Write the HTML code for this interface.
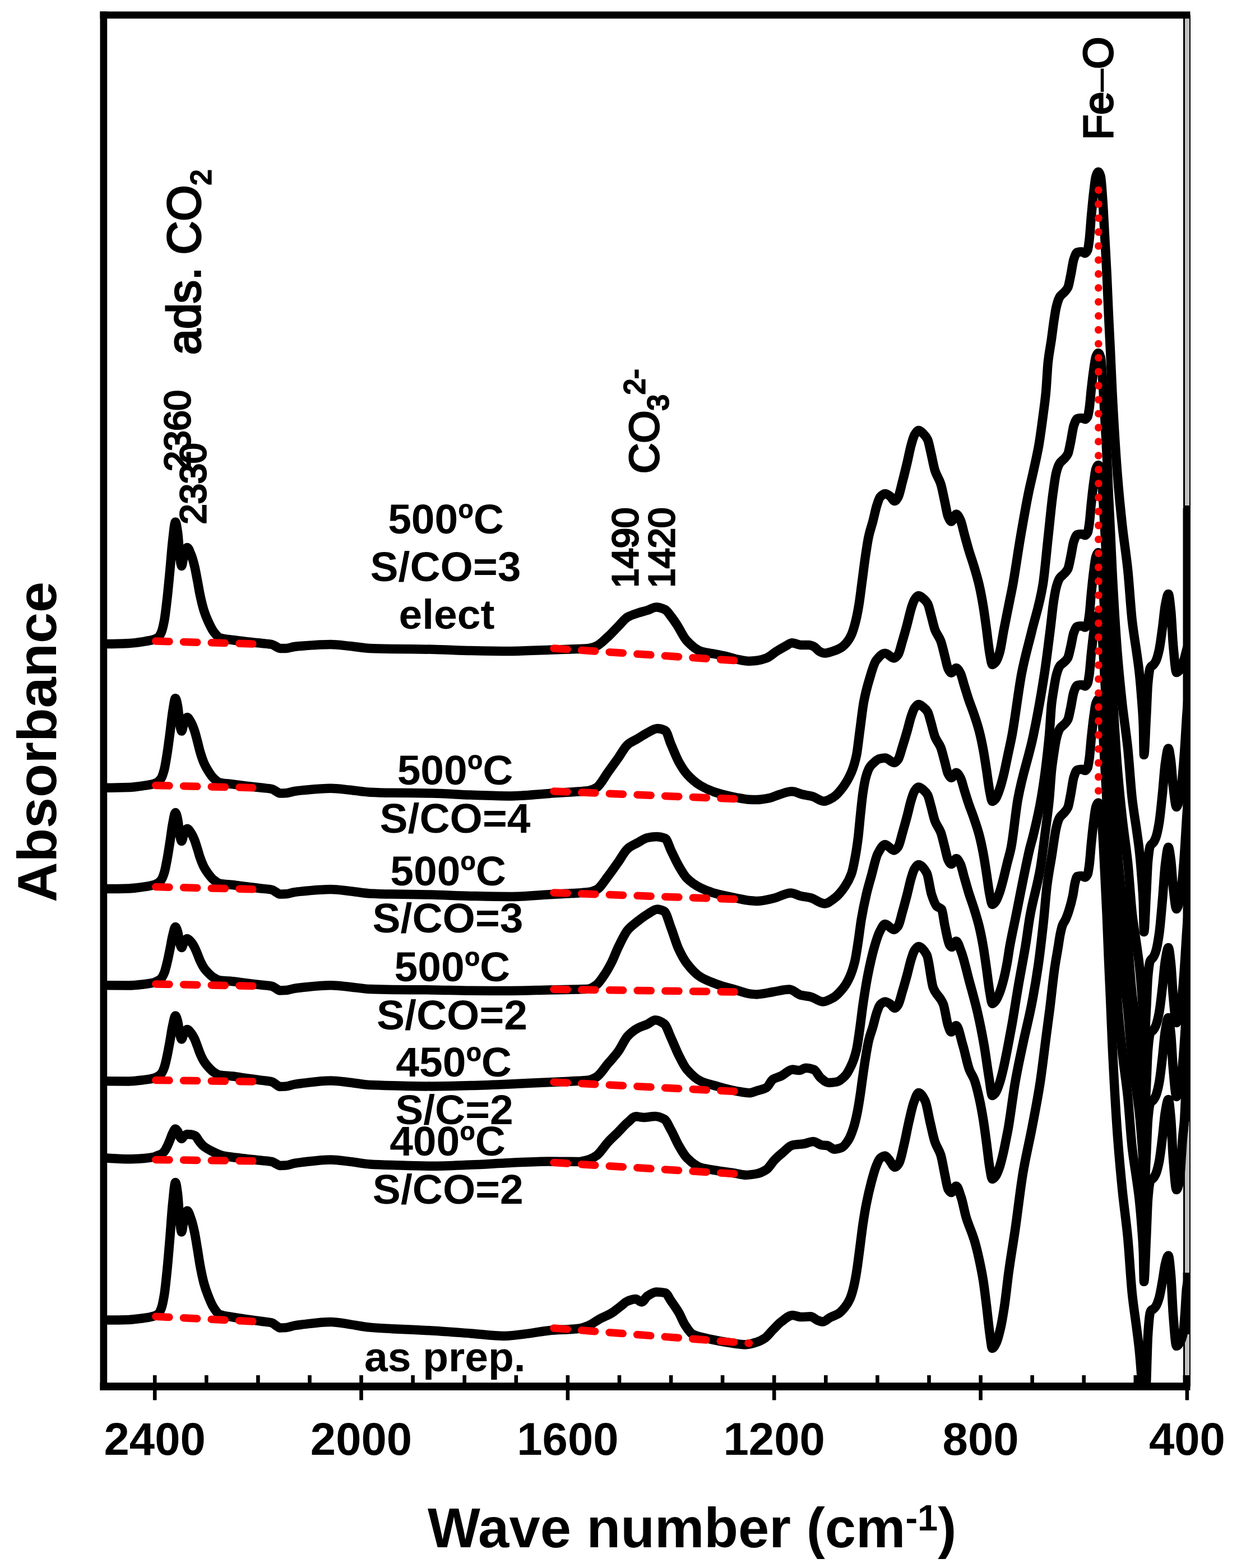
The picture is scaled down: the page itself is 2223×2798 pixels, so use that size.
<!DOCTYPE html>
<html lang="en"><head><meta charset="utf-8"><title>FTIR spectra</title>
<style>html,body{margin:0;padding:0;background:#fff}body{width:2223px;height:2798px;overflow:hidden}svg{display:block}text{font-family:"Liberation Sans",Arial,Helvetica,sans-serif;fill:#000}.b{font-weight:bold}.r{stroke:#000;stroke-width:3.2px;stroke-linejoin:miter}</style></head>
<body>
<svg xmlns="http://www.w3.org/2000/svg" width="2223" height="2798" viewBox="0 0 2223 2798">
<defs><clipPath id="pc"><rect x="185" y="26" width="1939" height="2448"/></clipPath><clipPath id="lc"><rect x="1000" y="600" width="300" height="445"/></clipPath></defs>
<rect width="2223" height="2798" fill="#fff"/>
<rect x="2111" y="27" width="13" height="2440" fill="#000"/><rect x="2114" y="28.5" width="8" height="2440" fill="#c0c0c0"/>
<text x="795.5" y="952" text-anchor="middle" class="b" font-size="75">500ºC</text><text x="795" y="1036.8" text-anchor="middle" class="b" font-size="75">S/CO=3</text><text x="797" y="1122" text-anchor="middle" class="b" font-size="75">elect</text><text x="812" y="1400.4" text-anchor="middle" class="b" font-size="75">500ºC</text><text x="812" y="1485.6" text-anchor="middle" class="b" font-size="75">S/CO=4</text><text x="799.6" y="1579.5" text-anchor="middle" class="b" font-size="75">500ºC</text><text x="799" y="1664.3" text-anchor="middle" class="b" font-size="75">S/CO=3</text><text x="806.9" y="1750.7" text-anchor="middle" class="b" font-size="75">500ºC</text><text x="806.5" y="1836.9" text-anchor="middle" class="b" font-size="75">S/CO=2</text><text x="809.7" y="1921" text-anchor="middle" class="b" font-size="75">450ºC</text><text x="810.4" y="2006.2" text-anchor="middle" class="b" font-size="75">S/C=2</text><text x="798.5" y="2062.4" text-anchor="middle" class="b" font-size="75">400ºC</text><text x="799.3" y="2148" text-anchor="middle" class="b" font-size="75">S/CO=2</text><text x="793.8" y="2446.8" text-anchor="middle" class="b" font-size="75">as prep.</text><text transform="translate(357.0 633.0) rotate(-90)" font-size="82.5" class="r">ads. CO<tspan font-size="50" dy="19">2</tspan></text><text transform="translate(339.3 841.0) rotate(-90)" font-size="65" class="r">2360</text><text transform="translate(367.2 935.5) rotate(-90)" font-size="65" class="r">2330</text><text transform="translate(1174.5 845.0) rotate(-90)" font-size="75" class="r">CO<tspan font-size="51" dy="17.5">3</tspan><tspan font-size="51" dy="-42">2-</tspan></text><g clip-path="url(#lc)"><text transform="translate(1138.0 1050.5) rotate(-90)" font-size="65" class="r">1490</text><text transform="translate(1202.8 1050.5) rotate(-90)" font-size="65" class="r">1420</text></g><text transform="translate(1984.6 249.6) rotate(-90) scale(0.98 1)" font-size="75" class="r">Fe<tspan style="stroke-width:0.6px">–</tspan>O</text>
<g clip-path="url(#pc)" fill="none" stroke="#000" stroke-width="16.5" stroke-linejoin="round" stroke-linecap="round">
<path d="M180.0 1149.0C183.7 1149.0 187.3 1149.0 191.0 1149.0C204.0 1149.0 217.0 1148.6 230.0 1148.0C239.2 1147.6 248.4 1146.1 257.6 1144.7C263.4 1143.8 269.2 1142.8 275.0 1141.0C277.3 1140.3 279.7 1139.4 282.0 1137.6C284.0 1136.1 286.0 1132.6 288.0 1128.0C289.7 1124.1 291.3 1116.7 293.0 1108.0C294.7 1099.3 296.3 1084.4 298.0 1070.0C299.7 1055.6 301.3 1037.5 303.0 1020.0C304.7 1002.5 306.3 978.9 308.0 965.0C309.7 951.1 311.3 931.5 313.0 931.5C314.3 931.5 315.7 941.3 317.0 950.0C318.3 958.7 319.7 985.9 321.0 995.0C322.0 1001.8 323.0 1010.0 324.0 1010.0C325.3 1010.0 326.7 996.4 328.0 992.0C330.0 985.4 332.0 977.0 334.0 977.0C336.3 977.0 338.7 984.4 341.0 990.0C343.0 994.8 345.0 1002.0 347.0 1010.0C348.7 1016.7 350.3 1026.3 352.0 1035.0C353.7 1043.7 355.3 1054.3 357.0 1062.0C359.3 1072.8 361.7 1082.7 364.0 1090.0C366.3 1097.3 368.7 1102.9 371.0 1108.0C374.3 1115.3 377.7 1122.6 381.0 1127.0C384.7 1131.8 388.3 1136.8 392.0 1138.0C399.7 1140.5 407.3 1140.9 415.0 1142.0C423.3 1143.2 431.7 1144.1 440.0 1145.0C449.2 1146.1 458.5 1147.0 467.7 1148.0C473.5 1148.6 479.2 1148.8 485.0 1150.0C487.7 1150.5 490.3 1152.7 493.0 1154.0C495.0 1155.0 497.0 1157.0 499.0 1157.0C502.7 1157.0 506.3 1157.0 510.0 1157.0C515.0 1157.0 520.0 1154.7 525.0 1154.0C529.3 1153.4 533.5 1153.0 537.8 1152.7C555.2 1151.4 572.6 1150.0 590.0 1150.0C601.7 1150.0 613.3 1151.9 625.0 1153.0C636.7 1154.1 648.3 1156.5 660.0 1157.0C673.3 1157.6 686.7 1157.8 700.0 1158.0C723.3 1158.3 746.7 1158.3 770.0 1158.7C793.3 1159.1 816.7 1160.5 840.0 1161.0C863.3 1161.5 886.7 1162.0 910.0 1162.0C933.3 1162.0 956.7 1160.5 980.0 1159.7C997.3 1159.1 1014.7 1158.7 1032.0 1158.0C1038.0 1157.7 1044.0 1157.6 1050.0 1157.0C1054.7 1156.6 1059.3 1154.9 1064.0 1153.0C1071.0 1150.1 1078.0 1142.3 1085.0 1136.0C1090.9 1130.7 1096.8 1123.9 1102.7 1118.0C1108.5 1112.2 1114.2 1104.2 1120.0 1101.0C1125.9 1097.7 1131.9 1096.0 1137.8 1094.0C1143.5 1092.1 1149.3 1090.8 1155.0 1089.0C1160.3 1087.3 1165.7 1083.5 1171.0 1083.5C1176.3 1083.5 1181.5 1085.5 1186.8 1088.0C1190.3 1089.7 1193.8 1095.6 1197.3 1100.0C1200.8 1104.4 1204.3 1109.7 1207.8 1115.0C1213.5 1123.7 1219.3 1136.9 1225.0 1143.0C1233.3 1151.8 1241.7 1159.4 1250.0 1162.0C1259.3 1164.9 1268.7 1165.6 1278.0 1167.5C1283.7 1168.6 1289.3 1169.7 1295.0 1171.0C1301.0 1172.4 1307.0 1174.7 1313.0 1176.0C1320.3 1177.5 1327.7 1179.7 1335.0 1179.7C1340.0 1179.7 1345.0 1179.2 1350.0 1178.7C1355.8 1178.1 1361.7 1176.4 1367.5 1174.3C1373.3 1172.2 1379.2 1166.2 1385.0 1162.6C1390.8 1159.0 1396.7 1155.5 1402.5 1152.4C1405.9 1150.6 1409.4 1147.2 1412.8 1147.2C1418.1 1147.2 1423.5 1151.0 1428.8 1151.0C1433.7 1151.0 1438.5 1151.0 1443.4 1151.0C1446.3 1151.0 1449.3 1152.5 1452.2 1153.9C1455.6 1155.5 1459.0 1160.9 1462.4 1162.6C1465.3 1164.0 1468.1 1165.6 1471.0 1165.6C1475.4 1165.6 1479.9 1163.9 1484.3 1162.6C1489.2 1161.2 1494.0 1159.5 1498.9 1156.8C1502.8 1154.7 1506.6 1151.1 1510.5 1146.6C1513.4 1143.2 1516.4 1138.5 1519.3 1132.0C1521.7 1126.6 1524.2 1118.2 1526.6 1108.6C1528.5 1101.0 1530.5 1091.0 1532.4 1079.4C1534.4 1067.6 1536.3 1050.4 1538.3 1035.7C1540.2 1021.2 1542.2 1004.9 1544.1 991.9C1546.0 978.9 1548.0 965.7 1549.9 956.9C1552.3 945.8 1554.8 939.8 1557.2 930.6C1559.6 921.4 1562.1 908.8 1564.5 901.4C1566.5 895.4 1568.4 888.9 1570.4 886.8C1573.3 883.6 1576.2 881.0 1579.1 881.0C1582.0 881.0 1585.0 883.3 1587.9 885.3C1590.6 887.1 1593.4 894.1 1596.1 894.1C1598.2 894.1 1600.4 890.5 1602.5 886.8C1604.9 882.6 1607.4 869.7 1609.8 860.5C1612.7 849.5 1615.6 837.7 1618.5 825.5C1620.9 815.3 1623.4 802.0 1625.8 793.4C1627.8 786.5 1629.7 779.1 1631.7 775.9C1634.1 772.0 1636.6 768.0 1639.0 768.0C1641.9 768.0 1644.8 771.6 1647.7 774.4C1650.1 776.8 1652.6 779.5 1655.0 784.6C1657.0 788.7 1658.9 799.8 1660.9 808.0C1663.3 818.1 1665.8 832.6 1668.2 840.1C1671.6 850.5 1675.0 853.1 1678.4 863.5C1680.8 871.0 1683.3 884.8 1685.7 895.6C1687.6 904.2 1689.6 917.4 1691.5 921.8C1693.4 926.2 1695.4 930.6 1697.3 930.6C1700.2 930.6 1703.2 917.5 1706.1 917.5C1708.5 917.5 1711.0 922.8 1713.4 927.7C1715.8 932.6 1718.3 945.2 1720.7 953.9C1723.1 962.6 1725.6 972.0 1728.0 980.2C1731.4 991.7 1734.8 1000.8 1738.2 1012.3C1741.1 1022.2 1744.1 1031.7 1747.0 1044.4C1749.4 1054.9 1751.9 1067.8 1754.3 1082.4C1756.2 1094.0 1758.2 1109.1 1760.1 1123.2C1762.0 1137.3 1764.0 1156.5 1765.9 1167.0C1767.4 1175.0 1768.8 1186.0 1770.3 1186.0C1772.3 1186.0 1774.2 1183.8 1776.2 1181.6C1778.6 1178.9 1781.1 1172.2 1783.5 1164.1C1785.9 1156.0 1788.4 1137.4 1790.8 1124.7C1794.2 1107.2 1797.5 1090.9 1800.9 1074.0C1802.9 1063.8 1805.0 1054.6 1807.0 1043.5C1811.3 1019.7 1815.7 987.7 1820.0 962.3C1824.9 933.6 1829.8 905.3 1834.7 881.2C1838.1 864.3 1841.6 851.0 1845.0 835.0C1847.8 822.1 1850.5 810.8 1853.3 795.0C1856.0 779.5 1858.7 758.7 1861.4 738.0C1862.9 726.3 1864.5 716.1 1866.0 700.0C1867.3 686.7 1868.5 658.5 1869.8 646.6C1871.9 627.2 1873.9 619.5 1876.0 604.8C1877.4 594.9 1878.8 582.8 1880.2 573.5C1881.6 564.2 1883.0 554.4 1884.4 548.5C1886.1 541.2 1887.9 535.3 1889.6 531.8C1890.4 530.2 1891.2 529.0 1892.0 528.0C1894.3 525.1 1896.7 523.9 1899.0 521.3C1901.1 519.0 1903.1 517.3 1905.2 513.0C1907.0 509.3 1908.7 498.4 1910.5 490.0C1912.2 481.8 1914.0 468.0 1915.7 462.9C1917.8 456.8 1919.8 450.9 1921.9 450.4C1924.6 449.7 1927.3 449.3 1930.0 449.3C1932.0 449.3 1934.0 452.0 1936.0 452.0C1937.5 452.0 1939.0 449.4 1940.5 446.0C1941.5 443.7 1942.5 435.5 1943.5 427.4C1944.7 418.0 1945.8 398.4 1947.0 385.7C1948.4 370.5 1949.8 355.5 1951.2 343.9C1952.6 332.6 1953.9 318.8 1955.3 314.7C1956.7 310.5 1958.1 306.8 1959.5 306.8C1960.9 306.8 1962.2 310.1 1963.6 314.7C1964.8 318.7 1966.0 338.2 1967.2 354.4C1968.4 370.6 1969.6 395.4 1970.8 417.0C1972.1 440.4 1973.4 463.2 1974.7 490.0C1975.8 512.0 1976.8 540.2 1977.9 563.1C1978.9 585.2 1980.0 604.0 1981.0 625.7C1982.1 649.5 1983.3 678.5 1984.4 700.0C1987.4 757.5 1990.5 807.6 1993.5 846.0C1996.5 883.9 1999.5 912.8 2002.5 940.0C2005.7 968.7 2008.8 985.9 2012.0 1016.0C2014.7 1041.4 2017.3 1085.5 2020.0 1108.8C2022.7 1132.1 2025.3 1145.4 2028.0 1165.0C2029.6 1176.7 2031.2 1186.8 2032.8 1201.6C2034.2 1214.5 2035.6 1231.1 2037.0 1250.0C2037.9 1262.6 2038.9 1271.2 2039.8 1294.4C2040.2 1304.3 2040.6 1347.0 2041.0 1347.0C2042.3 1347.0 2043.7 1304.4 2045.0 1280.0C2046.0 1261.7 2047.0 1230.6 2048.0 1220.0C2049.3 1205.8 2050.7 1195.1 2052.0 1192.0C2052.7 1190.5 2053.3 1189.6 2054.0 1189.0C2055.0 1188.1 2056.0 1187.9 2057.0 1187.0C2058.7 1185.5 2060.3 1183.2 2062.0 1180.0C2064.0 1176.1 2066.0 1168.9 2068.0 1160.0C2070.0 1151.1 2072.0 1134.6 2074.0 1120.0C2075.7 1107.8 2077.3 1088.4 2079.0 1080.0C2080.8 1070.8 2082.7 1060.0 2084.5 1060.0C2086.0 1060.0 2087.5 1076.0 2089.0 1090.0C2090.3 1102.4 2091.7 1135.4 2093.0 1150.0C2095.0 1171.8 2097.0 1200.0 2099.0 1200.0C2100.8 1200.0 2102.7 1197.9 2104.5 1196.0C2105.7 1194.8 2106.8 1192.4 2108.0 1190.0C2109.0 1187.9 2110.0 1185.0 2111.0 1182.0C2112.0 1179.0 2113.0 1175.6 2114.0 1172.0C2115.0 1168.4 2116.0 1163.6 2117.0 1160.0C2118.0 1156.4 2119.0 1153.3 2120.0 1150.0"/>
<path d="M180.0 1405.6C183.7 1405.6 187.3 1405.7 191.0 1405.7C204.0 1405.7 217.0 1405.4 230.0 1405.0C239.2 1404.7 248.4 1403.3 257.6 1401.9C263.4 1401.1 269.2 1400.1 275.0 1398.3C277.3 1397.6 279.7 1396.6 282.0 1395.0C284.0 1393.6 286.0 1391.4 288.0 1388.1C289.7 1385.3 291.3 1379.9 293.0 1373.6C294.7 1367.3 296.3 1356.5 298.0 1346.1C299.7 1335.7 301.3 1322.6 303.0 1310.0C304.7 1297.4 306.3 1280.3 308.0 1270.2C309.7 1260.2 311.3 1246.0 313.0 1246.0C314.3 1246.0 315.7 1253.3 317.0 1259.8C318.3 1266.3 319.7 1286.6 321.0 1293.4C322.0 1298.5 323.0 1304.6 324.0 1304.6C325.3 1304.6 326.7 1294.4 328.0 1291.2C330.0 1286.3 332.0 1280.0 334.0 1280.0C336.3 1280.0 338.7 1285.4 341.0 1289.4C343.0 1292.9 345.0 1298.1 347.0 1303.9C348.7 1308.7 350.3 1315.7 352.0 1322.0C353.7 1328.2 355.3 1335.9 357.0 1341.5C359.3 1349.3 361.7 1356.5 364.0 1361.8C366.3 1367.1 368.7 1371.1 371.0 1374.8C374.3 1380.1 377.7 1385.4 381.0 1388.5C384.7 1392.0 388.3 1395.6 392.0 1396.5C399.7 1398.3 407.3 1398.4 415.0 1399.4C423.3 1400.5 431.7 1401.6 440.0 1402.6C449.2 1403.7 458.5 1404.7 467.7 1405.8C473.5 1406.5 479.2 1406.7 485.0 1408.0C487.7 1408.6 490.3 1410.8 493.0 1412.3C495.0 1413.4 497.0 1415.5 499.0 1415.5C502.7 1415.5 506.3 1415.4 510.0 1415.3C515.0 1415.1 520.0 1412.8 525.0 1412.0C529.3 1411.3 533.5 1410.8 537.8 1410.4C555.2 1408.8 572.6 1406.7 590.0 1406.7C601.7 1406.7 613.3 1408.6 625.0 1409.7C636.7 1410.9 648.3 1413.2 660.0 1413.7C673.3 1414.3 686.7 1414.6 700.0 1414.8C723.3 1415.1 746.7 1415.1 770.0 1415.5C793.3 1415.9 816.7 1417.8 840.0 1418.6C863.3 1419.4 886.7 1420.4 910.0 1420.4C933.3 1420.4 956.7 1417.4 980.0 1415.9C997.3 1414.8 1014.7 1413.9 1032.0 1412.6C1038.0 1412.1 1044.0 1411.9 1050.0 1411.0C1054.7 1410.3 1059.3 1408.4 1064.0 1405.7C1071.0 1401.7 1078.0 1387.3 1085.0 1377.7C1090.9 1369.6 1096.8 1361.3 1102.7 1353.0C1108.5 1344.9 1114.2 1333.4 1120.0 1328.6C1125.9 1323.6 1131.9 1321.6 1137.8 1318.0C1143.5 1314.6 1149.3 1310.5 1155.0 1307.6C1160.9 1304.6 1166.9 1300.0 1172.8 1300.0C1177.5 1300.0 1182.1 1301.3 1186.8 1303.6C1190.3 1305.3 1193.8 1320.5 1197.3 1328.6C1202.0 1339.4 1206.6 1351.6 1211.3 1360.0C1216.0 1368.4 1220.6 1375.8 1225.3 1381.0C1233.5 1390.2 1241.8 1397.2 1250.0 1402.0C1259.3 1407.5 1268.7 1411.4 1278.0 1414.4C1289.7 1418.1 1301.3 1420.8 1313.0 1423.0C1321.1 1424.5 1329.3 1426.4 1337.4 1426.7C1341.6 1426.9 1345.8 1427.0 1350.0 1427.0C1357.7 1427.0 1365.3 1425.5 1373.0 1424.0C1378.7 1422.9 1384.3 1419.7 1390.0 1418.0C1397.6 1415.8 1405.2 1412.3 1412.8 1412.3C1419.1 1412.3 1425.4 1416.1 1431.7 1417.6C1437.5 1418.9 1443.2 1419.5 1449.0 1421.0C1455.9 1422.8 1462.8 1429.8 1469.7 1429.8C1475.5 1429.8 1481.2 1426.0 1487.0 1422.5C1492.9 1418.9 1498.8 1411.6 1504.7 1403.6C1509.6 1397.0 1514.4 1389.0 1519.3 1377.3C1522.2 1370.3 1525.1 1361.7 1528.0 1348.0C1530.0 1338.6 1532.0 1318.9 1534.0 1304.3C1536.4 1286.8 1538.8 1264.4 1541.2 1251.8C1544.6 1233.9 1548.0 1222.2 1551.4 1211.0C1555.3 1198.3 1559.1 1183.8 1563.0 1178.8C1568.4 1171.8 1573.7 1165.7 1579.1 1165.7C1584.5 1165.7 1589.8 1174.4 1595.2 1174.4C1597.6 1174.4 1600.1 1171.3 1602.5 1168.0C1604.9 1164.6 1607.4 1152.9 1609.8 1144.7C1612.7 1135.0 1615.6 1124.6 1618.5 1113.8C1620.9 1104.8 1623.4 1093.0 1625.8 1085.4C1627.8 1079.3 1629.7 1072.8 1631.7 1070.0C1634.1 1066.5 1636.6 1063.0 1639.0 1063.0C1641.9 1063.0 1644.8 1066.0 1647.7 1068.4C1650.1 1070.4 1652.6 1072.7 1655.0 1077.1C1657.0 1080.6 1658.9 1089.9 1660.9 1096.9C1663.3 1105.5 1665.8 1117.7 1668.2 1124.1C1671.6 1132.9 1675.0 1135.0 1678.4 1143.9C1680.8 1150.2 1683.3 1161.9 1685.7 1171.1C1687.6 1178.4 1689.6 1189.5 1691.5 1193.2C1693.4 1197.0 1695.4 1200.7 1697.3 1200.7C1700.2 1200.7 1703.2 1192.0 1706.1 1192.0C1708.5 1192.0 1711.0 1196.7 1713.4 1201.0C1715.8 1205.4 1718.3 1216.5 1720.7 1224.3C1723.1 1232.0 1725.6 1240.3 1728.0 1247.6C1731.4 1257.7 1734.8 1265.8 1738.2 1276.0C1741.1 1284.8 1744.1 1293.3 1747.0 1304.5C1749.4 1313.8 1751.9 1325.2 1754.3 1338.2C1756.2 1348.5 1758.2 1361.9 1760.1 1374.3C1762.0 1386.8 1764.0 1403.9 1765.9 1413.2C1767.4 1420.2 1768.8 1430.0 1770.3 1430.0C1772.3 1430.0 1774.2 1427.7 1776.2 1425.5C1778.6 1422.7 1781.1 1415.0 1783.5 1408.0C1785.8 1401.3 1788.2 1392.4 1790.5 1383.0C1793.0 1372.9 1795.5 1359.8 1798.0 1348.0C1800.5 1336.2 1803.0 1325.7 1805.5 1312.3C1811.4 1280.6 1817.4 1228.5 1823.3 1198.7C1829.3 1168.8 1835.2 1149.5 1841.2 1124.7C1847.7 1097.8 1854.1 1082.2 1860.6 1043.5C1863.6 1025.5 1866.6 989.5 1869.6 962.3C1872.6 935.4 1875.5 903.1 1878.5 881.2C1880.5 866.7 1882.4 851.7 1884.4 843.8C1886.1 836.9 1887.9 831.7 1889.6 828.5C1890.4 827.0 1891.2 826.0 1892.0 825.0C1894.3 822.2 1896.7 820.9 1899.0 818.3C1901.1 816.0 1903.1 814.2 1905.2 809.9C1907.0 806.3 1908.7 795.3 1910.5 786.9C1912.2 778.6 1914.0 764.8 1915.7 759.7C1917.8 753.5 1919.8 747.7 1921.9 747.1C1924.6 746.4 1927.3 746.0 1930.0 746.0C1932.0 746.0 1934.0 748.2 1936.0 748.2C1937.5 748.2 1939.0 746.1 1940.5 743.3C1941.5 741.4 1942.5 734.8 1943.5 728.2C1944.7 720.5 1945.8 704.6 1947.0 694.2C1948.4 681.8 1949.8 669.7 1951.2 660.2C1952.6 651.0 1953.9 639.7 1955.3 636.4C1956.7 633.0 1958.1 630.0 1959.5 630.0C1960.9 630.0 1962.2 633.3 1963.6 637.8C1964.8 641.8 1966.0 661.2 1967.2 677.3C1968.4 693.4 1969.6 718.0 1970.8 739.4C1972.1 762.7 1973.4 785.3 1974.7 811.9C1975.8 833.8 1976.8 861.8 1977.9 884.5C1978.9 906.5 1980.0 925.2 1981.0 946.7C1982.1 970.3 1983.3 999.2 1984.4 1020.5C1987.4 1077.5 1990.5 1127.4 1993.5 1165.5C1996.5 1203.1 1999.5 1231.8 2002.5 1258.8C2005.7 1287.3 2008.8 1304.4 2012.0 1334.3C2014.7 1359.5 2017.3 1403.3 2020.0 1426.4C2022.7 1449.6 2025.3 1462.8 2028.0 1482.3C2029.6 1493.9 2031.2 1504.0 2032.8 1518.6C2034.2 1531.4 2035.6 1547.9 2037.0 1566.7C2037.9 1579.2 2038.9 1587.7 2039.8 1610.8C2040.2 1620.6 2040.6 1663.0 2041.0 1663.0C2042.3 1663.0 2043.7 1621.0 2045.0 1596.8C2046.0 1578.8 2047.0 1548.1 2048.0 1537.6C2049.3 1523.6 2050.7 1513.0 2052.0 1510.0C2052.7 1508.4 2053.3 1507.8 2054.0 1507.0C2055.0 1505.9 2056.0 1505.5 2057.0 1504.3C2058.7 1502.4 2060.3 1499.4 2062.0 1495.0C2064.0 1489.9 2066.0 1480.3 2068.0 1468.4C2070.0 1456.6 2072.0 1434.7 2074.0 1415.3C2075.7 1399.1 2077.3 1373.2 2079.0 1362.1C2080.8 1349.8 2082.7 1335.5 2084.5 1335.5C2086.0 1335.5 2087.5 1347.5 2089.0 1357.9C2090.3 1367.1 2091.7 1391.8 2093.0 1402.7C2095.0 1419.0 2097.0 1440.0 2099.0 1440.0C2100.8 1440.0 2102.7 1432.0 2104.5 1424.4C2105.7 1419.7 2106.8 1410.6 2108.0 1401.1C2109.0 1392.9 2110.0 1381.7 2111.0 1370.0C2112.0 1358.3 2113.0 1344.1 2114.0 1329.4C2115.0 1314.6 2116.0 1295.4 2117.0 1280.6C2118.0 1265.9 2119.0 1253.5 2120.0 1240.0"/>
<path d="M180.0 1585.9C183.7 1585.9 187.3 1586.0 191.0 1586.0C204.0 1586.0 217.0 1585.8 230.0 1585.4C239.2 1585.2 248.4 1583.8 257.6 1582.4C263.4 1581.6 269.2 1580.7 275.0 1578.9C277.3 1578.2 279.7 1577.1 282.0 1575.6C284.0 1574.3 286.0 1572.6 288.0 1569.7C289.7 1567.4 291.3 1562.9 293.0 1557.6C294.7 1552.2 296.3 1543.2 298.0 1534.4C299.7 1525.6 301.3 1514.6 303.0 1503.9C304.7 1493.3 306.3 1478.9 308.0 1470.4C309.7 1462.0 311.3 1450.0 313.0 1450.0C314.3 1450.0 315.7 1456.3 317.0 1462.0C318.3 1467.7 319.7 1485.4 321.0 1491.3C322.0 1495.7 323.0 1501.0 324.0 1501.0C325.3 1501.0 326.7 1491.8 328.0 1488.8C330.0 1484.4 332.0 1478.7 334.0 1478.7C336.3 1478.7 338.7 1483.2 341.0 1486.6C343.0 1489.5 345.0 1493.9 347.0 1498.8C348.7 1502.8 350.3 1508.7 352.0 1514.0C353.7 1519.2 355.3 1525.7 357.0 1530.4C359.3 1536.9 361.7 1543.0 364.0 1547.4C366.3 1551.8 368.7 1555.2 371.0 1558.3C374.3 1562.8 377.7 1567.2 381.0 1569.9C384.7 1572.8 388.3 1575.8 392.0 1576.6C399.7 1578.1 407.3 1578.1 415.0 1579.0C423.3 1580.0 431.7 1581.3 440.0 1582.3C449.2 1583.5 458.5 1584.5 467.7 1585.6C473.5 1586.3 479.2 1586.5 485.0 1587.8C487.7 1588.4 490.3 1590.7 493.0 1592.2C495.0 1593.3 497.0 1595.5 499.0 1595.5C502.7 1595.5 506.3 1595.4 510.0 1595.3C515.0 1595.2 520.0 1592.8 525.0 1592.1C529.3 1591.4 533.5 1591.0 537.8 1590.6C555.2 1589.0 572.6 1587.0 590.0 1587.0C601.7 1587.0 613.3 1589.0 625.0 1590.2C636.7 1591.4 648.3 1593.8 660.0 1594.4C673.3 1595.0 686.7 1595.3 700.0 1595.5C723.3 1596.0 746.7 1596.1 770.0 1596.6C793.3 1597.1 816.7 1598.5 840.0 1598.9C863.3 1599.4 886.7 1600.0 910.0 1600.0C933.3 1600.0 956.7 1597.5 980.0 1596.2C997.3 1595.3 1014.7 1594.5 1032.0 1593.4C1038.0 1593.0 1044.0 1592.8 1050.0 1592.0C1054.7 1591.4 1059.3 1589.9 1064.0 1587.8C1071.0 1584.6 1078.0 1572.2 1085.0 1563.3C1090.9 1555.8 1096.8 1547.1 1102.7 1538.8C1108.5 1530.7 1114.2 1519.1 1120.0 1514.3C1125.9 1509.3 1131.9 1507.1 1137.8 1503.8C1143.5 1500.7 1149.3 1496.1 1155.0 1495.0C1160.3 1493.9 1165.7 1493.0 1171.0 1493.0C1176.3 1493.0 1181.5 1494.1 1186.8 1496.0C1190.3 1497.3 1193.8 1510.7 1197.3 1517.8C1202.0 1527.3 1206.6 1537.8 1211.3 1545.8C1216.0 1553.8 1220.6 1562.2 1225.3 1566.8C1233.5 1575.0 1241.8 1580.2 1250.0 1584.3C1259.3 1588.9 1268.7 1592.2 1278.0 1594.8C1289.7 1598.1 1301.3 1600.2 1313.0 1602.5C1321.1 1604.1 1329.3 1606.1 1337.4 1607.0C1341.6 1607.4 1345.8 1608.0 1350.0 1608.0C1360.0 1608.0 1370.0 1605.2 1380.0 1603.0C1390.3 1600.8 1400.7 1593.4 1411.0 1593.4C1416.9 1593.4 1422.9 1597.7 1428.8 1599.0C1434.5 1600.3 1440.3 1600.6 1446.0 1602.0C1454.3 1604.0 1462.7 1612.4 1471.0 1612.4C1477.3 1612.4 1483.7 1606.7 1490.0 1602.0C1495.9 1597.6 1501.7 1590.4 1507.6 1581.7C1511.5 1575.9 1515.4 1569.6 1519.3 1558.4C1521.5 1552.0 1523.8 1540.1 1526.0 1528.0C1527.7 1519.0 1529.3 1508.4 1531.0 1495.0C1532.3 1484.3 1533.7 1467.6 1535.0 1455.0C1536.5 1440.9 1538.0 1425.0 1539.5 1415.0C1541.3 1402.8 1543.2 1392.3 1545.0 1386.0C1547.3 1378.0 1549.7 1372.0 1552.0 1368.5C1554.7 1364.4 1557.5 1362.0 1560.2 1359.8C1563.1 1357.4 1566.0 1354.7 1568.9 1354.0C1572.3 1353.2 1575.7 1352.5 1579.1 1352.5C1584.6 1352.5 1590.0 1361.0 1595.5 1361.0C1597.8 1361.0 1600.2 1358.1 1602.5 1355.0C1604.9 1351.7 1607.4 1340.9 1609.8 1333.3C1612.7 1324.2 1615.6 1314.5 1618.5 1304.4C1620.9 1296.0 1623.4 1285.0 1625.8 1277.9C1627.8 1272.2 1629.7 1266.1 1631.7 1263.5C1634.1 1260.3 1636.6 1257.0 1639.0 1257.0C1641.9 1257.0 1644.8 1259.9 1647.7 1262.2C1650.1 1264.1 1652.6 1266.3 1655.0 1270.4C1657.0 1273.7 1658.9 1282.6 1660.9 1289.2C1663.3 1297.4 1665.8 1309.1 1668.2 1315.1C1671.6 1323.5 1675.0 1325.5 1678.4 1333.9C1680.8 1340.0 1683.3 1351.1 1685.7 1359.8C1687.6 1366.7 1689.6 1377.4 1691.5 1380.9C1693.4 1384.4 1695.4 1388.0 1697.3 1388.0C1700.2 1388.0 1703.2 1378.7 1706.1 1378.7C1708.5 1378.7 1711.0 1383.3 1713.4 1387.6C1715.8 1391.9 1718.3 1402.9 1720.7 1410.6C1723.1 1418.3 1725.6 1426.5 1728.0 1433.6C1731.4 1443.7 1734.8 1451.7 1738.2 1461.8C1741.1 1470.5 1744.1 1478.8 1747.0 1489.9C1749.4 1499.1 1751.9 1510.4 1754.3 1523.2C1756.2 1533.4 1758.2 1546.6 1760.1 1559.0C1762.0 1571.3 1764.0 1588.2 1765.9 1597.3C1767.4 1604.3 1768.8 1614.0 1770.3 1614.0C1772.3 1614.0 1774.2 1611.4 1776.2 1609.0C1778.6 1606.0 1781.1 1598.9 1783.5 1592.0C1785.8 1585.4 1788.2 1576.0 1790.5 1567.0C1792.7 1558.7 1794.8 1548.8 1797.0 1540.0C1799.3 1530.5 1801.7 1523.7 1804.0 1512.0C1808.0 1492.0 1812.0 1447.7 1816.0 1426.0C1825.2 1376.1 1834.4 1356.3 1843.6 1312.3C1850.4 1279.9 1857.1 1243.2 1863.9 1198.7C1867.1 1177.4 1870.4 1150.4 1873.6 1124.7C1875.8 1107.2 1878.0 1084.3 1880.2 1070.4C1881.6 1061.5 1883.0 1053.4 1884.4 1048.2C1886.1 1041.7 1887.9 1036.5 1889.6 1033.4C1890.4 1031.9 1891.2 1030.9 1892.0 1030.0C1894.3 1027.3 1896.7 1026.0 1899.0 1023.4C1901.1 1021.2 1903.1 1019.5 1905.2 1015.3C1907.0 1011.7 1908.7 1001.0 1910.5 992.8C1912.2 984.8 1914.0 971.3 1915.7 966.3C1917.8 960.4 1919.8 954.6 1921.9 954.1C1924.6 953.4 1927.3 953.0 1930.0 953.0C1932.0 953.0 1934.0 955.3 1936.0 955.3C1937.5 955.3 1939.0 953.1 1940.5 950.2C1941.5 948.2 1942.5 941.1 1943.5 934.1C1944.7 925.9 1945.8 909.1 1947.0 898.1C1948.4 885.0 1949.8 872.0 1951.2 862.0C1952.6 852.2 1953.9 840.3 1955.3 836.8C1956.7 833.2 1958.1 830.0 1959.5 830.0C1960.9 830.0 1962.2 833.3 1963.6 837.9C1964.8 841.9 1966.0 861.4 1967.2 877.5C1968.4 893.7 1969.6 918.5 1970.8 940.1C1972.1 963.5 1973.4 986.2 1974.7 1013.0C1975.8 1035.0 1976.8 1063.2 1977.9 1086.0C1978.9 1108.1 1980.0 1126.9 1981.0 1148.5C1982.1 1172.3 1983.3 1201.3 1984.4 1222.7C1987.4 1280.1 1990.5 1330.3 1993.5 1368.6C1996.5 1406.5 1999.5 1435.3 2002.5 1462.5C2005.7 1491.2 2008.8 1508.3 2012.0 1538.4C2014.7 1563.7 2017.3 1607.8 2020.0 1631.1C2022.7 1654.4 2025.3 1667.7 2028.0 1687.2C2029.6 1698.9 2031.2 1709.0 2032.8 1723.8C2034.2 1736.7 2035.6 1753.2 2037.0 1772.1C2037.9 1784.7 2038.9 1793.3 2039.8 1816.5C2040.2 1826.4 2040.6 1869.0 2041.0 1869.0C2042.3 1869.0 2043.7 1826.7 2045.0 1802.4C2046.0 1784.2 2047.0 1753.4 2048.0 1742.8C2049.3 1728.7 2050.7 1718.0 2052.0 1715.0C2052.7 1713.5 2053.3 1712.8 2054.0 1712.0C2055.0 1710.8 2056.0 1710.3 2057.0 1708.9C2058.7 1706.6 2060.3 1703.1 2062.0 1698.0C2064.0 1692.0 2066.0 1680.8 2068.0 1667.0C2070.0 1653.2 2072.0 1627.5 2074.0 1604.9C2075.7 1586.0 2077.3 1555.8 2079.0 1542.8C2080.8 1528.4 2082.7 1511.7 2084.5 1511.7C2086.0 1511.7 2087.5 1524.3 2089.0 1535.3C2090.3 1545.1 2091.7 1571.1 2093.0 1582.6C2095.0 1599.8 2097.0 1622.0 2099.0 1622.0C2100.8 1622.0 2102.7 1614.0 2104.5 1606.4C2105.7 1601.7 2106.8 1592.6 2108.0 1583.1C2109.0 1574.9 2110.0 1563.8 2111.0 1552.0C2112.0 1540.2 2113.0 1525.8 2114.0 1510.8C2115.0 1495.8 2116.0 1476.2 2117.0 1461.2C2118.0 1446.2 2119.0 1433.8 2120.0 1420.0"/>
<path d="M180.0 1757.9C183.7 1758.1 187.3 1758.2 191.0 1758.3C204.0 1758.5 217.0 1758.6 230.0 1758.6C239.2 1758.6 248.4 1757.4 257.6 1756.3C263.4 1755.6 269.2 1754.7 275.0 1753.2C277.3 1752.5 279.7 1751.3 282.0 1750.0C284.0 1748.9 286.0 1747.7 288.0 1745.5C289.7 1743.7 291.3 1740.3 293.0 1736.2C294.7 1732.1 296.3 1725.2 298.0 1718.5C299.7 1711.8 301.3 1703.4 303.0 1695.2C304.7 1687.1 306.3 1676.1 308.0 1669.6C309.7 1663.1 311.3 1654.0 313.0 1654.0C314.3 1654.0 315.7 1658.6 317.0 1662.7C318.3 1666.8 319.7 1679.7 321.0 1683.9C322.0 1687.1 323.0 1691.0 324.0 1691.0C325.3 1691.0 326.7 1684.4 328.0 1682.3C330.0 1679.1 332.0 1675.0 334.0 1675.0C336.3 1675.0 338.7 1678.4 341.0 1681.0C343.0 1683.2 345.0 1686.5 347.0 1690.3C348.7 1693.4 350.3 1697.8 352.0 1701.8C353.7 1705.8 355.3 1710.7 357.0 1714.3C359.3 1719.3 361.7 1723.9 364.0 1727.3C366.3 1730.6 368.7 1733.2 371.0 1735.6C374.3 1739.0 377.7 1742.3 381.0 1744.4C384.7 1746.6 388.3 1748.9 392.0 1749.5C399.7 1750.6 407.3 1750.5 415.0 1751.3C423.3 1752.1 431.7 1753.5 440.0 1754.5C449.2 1755.6 458.5 1756.6 467.7 1757.7C473.5 1758.4 479.2 1758.6 485.0 1759.9C487.7 1760.5 490.3 1762.7 493.0 1764.2C495.0 1765.3 497.0 1767.4 499.0 1767.4C502.7 1767.4 506.3 1767.3 510.0 1767.1C515.0 1766.9 520.0 1764.6 525.0 1763.8C529.3 1763.1 533.5 1762.6 537.8 1762.2C555.2 1760.5 572.6 1758.3 590.0 1758.3C601.7 1758.3 613.3 1760.1 625.0 1761.2C636.7 1762.3 648.3 1764.6 660.0 1765.1C673.3 1765.6 686.7 1765.8 700.0 1765.9C723.3 1766.2 746.7 1766.2 770.0 1766.4C793.3 1766.6 816.7 1767.8 840.0 1767.8C863.3 1767.9 886.7 1768.0 910.0 1768.0C933.3 1768.0 956.7 1767.0 980.0 1766.5C997.3 1766.1 1014.7 1765.9 1032.0 1765.4C1038.0 1765.2 1044.0 1765.1 1050.0 1764.6C1054.7 1764.2 1059.3 1760.9 1064.0 1757.6C1068.7 1754.3 1073.3 1746.8 1078.0 1740.0C1082.7 1733.2 1087.3 1724.9 1092.0 1715.6C1095.6 1708.5 1099.1 1698.3 1102.7 1691.0C1108.5 1679.2 1114.2 1666.4 1120.0 1659.5C1125.9 1652.4 1131.9 1648.5 1137.8 1643.8C1143.5 1639.3 1149.3 1634.9 1155.0 1631.5C1160.9 1628.0 1166.9 1622.4 1172.8 1622.4C1176.9 1622.4 1180.9 1623.9 1185.0 1626.0C1189.1 1628.2 1193.2 1645.4 1197.3 1656.0C1202.0 1668.1 1206.6 1684.6 1211.3 1694.6C1216.0 1704.6 1220.6 1712.9 1225.3 1719.0C1233.5 1729.7 1241.8 1738.5 1250.0 1743.6C1259.3 1749.3 1268.7 1752.5 1278.0 1755.9C1289.7 1760.1 1301.3 1763.0 1313.0 1766.4C1321.1 1768.8 1329.3 1772.4 1337.4 1773.4C1341.6 1773.9 1345.8 1774.4 1350.0 1774.4C1359.7 1774.4 1369.3 1771.5 1379.0 1770.0C1388.8 1768.5 1398.6 1765.6 1408.4 1765.6C1415.2 1765.6 1422.0 1774.1 1428.8 1775.8C1434.6 1777.2 1440.5 1777.3 1446.3 1778.7C1453.5 1780.4 1460.8 1787.5 1468.0 1787.5C1474.3 1787.5 1480.7 1783.6 1487.0 1780.0C1492.9 1776.7 1498.8 1770.2 1504.7 1762.7C1508.6 1757.7 1512.5 1751.1 1516.4 1742.3C1519.3 1735.8 1522.1 1727.7 1525.0 1716.0C1527.0 1707.8 1529.0 1693.8 1531.0 1681.0C1532.9 1668.6 1534.9 1651.4 1536.8 1640.0C1539.7 1622.7 1542.7 1608.8 1545.6 1596.3C1548.5 1584.0 1551.4 1574.4 1554.3 1564.0C1558.2 1550.0 1562.1 1530.7 1566.0 1523.4C1570.3 1515.3 1574.7 1507.0 1579.0 1507.0C1584.3 1507.0 1589.7 1517.4 1595.0 1517.4C1597.5 1517.4 1600.0 1514.3 1602.5 1510.9C1604.9 1507.5 1607.4 1495.6 1609.8 1487.3C1612.7 1477.4 1615.6 1466.9 1618.5 1455.9C1620.9 1446.8 1623.4 1434.8 1625.8 1427.2C1627.8 1421.0 1629.7 1414.3 1631.7 1411.5C1634.1 1408.0 1636.6 1404.4 1639.0 1404.4C1641.9 1404.4 1644.8 1407.4 1647.7 1409.8C1650.1 1411.8 1652.6 1414.1 1655.0 1418.4C1657.0 1421.9 1658.9 1431.3 1660.9 1438.2C1663.3 1446.8 1665.8 1459.1 1668.2 1465.4C1671.6 1474.2 1675.0 1476.4 1678.4 1485.2C1680.8 1491.5 1683.3 1503.2 1685.7 1512.4C1687.6 1519.7 1689.6 1530.8 1691.5 1534.6C1693.4 1538.3 1695.4 1542.0 1697.3 1542.0C1700.2 1542.0 1703.2 1532.0 1706.1 1532.0C1708.5 1532.0 1711.0 1537.1 1713.4 1541.8C1715.8 1546.4 1718.3 1558.5 1720.7 1566.8C1723.1 1575.2 1725.6 1584.2 1728.0 1592.0C1731.4 1603.0 1734.8 1611.7 1738.2 1622.7C1741.1 1632.2 1744.1 1641.4 1747.0 1653.5C1749.4 1663.5 1751.9 1675.8 1754.3 1689.8C1756.2 1701.0 1758.2 1715.4 1760.1 1728.9C1762.0 1742.4 1764.0 1760.1 1765.9 1770.8C1767.4 1779.0 1768.8 1791.0 1770.3 1791.0C1772.3 1791.0 1774.2 1788.3 1776.2 1786.0C1778.6 1783.1 1781.1 1777.2 1783.5 1771.0C1785.8 1765.1 1788.2 1757.0 1790.5 1748.0C1792.5 1740.3 1794.5 1730.7 1796.5 1720.0C1798.2 1711.1 1799.8 1698.3 1801.5 1689.0C1805.2 1668.1 1809.0 1652.1 1812.7 1633.5C1818.3 1605.8 1823.8 1576.6 1829.4 1550.0C1831.9 1537.9 1834.5 1525.5 1837.0 1515.0C1839.2 1505.9 1841.4 1499.1 1843.6 1490.0C1848.2 1471.0 1852.8 1452.7 1857.4 1426.0C1862.3 1397.8 1867.1 1363.4 1872.0 1312.3C1873.3 1298.3 1874.7 1269.5 1876.0 1257.3C1877.4 1244.5 1878.8 1237.1 1880.2 1228.6C1881.6 1220.2 1883.0 1211.2 1884.4 1205.8C1886.1 1199.1 1887.9 1193.7 1889.6 1190.5C1890.4 1189.0 1891.2 1187.9 1892.0 1187.0C1894.3 1184.4 1896.7 1183.4 1899.0 1181.0C1901.1 1179.0 1903.1 1177.5 1905.2 1173.7C1907.0 1170.4 1908.7 1160.6 1910.5 1153.2C1912.2 1145.9 1914.0 1133.6 1915.7 1129.1C1917.8 1123.7 1919.8 1118.5 1921.9 1118.0C1924.6 1117.3 1927.3 1117.0 1930.0 1117.0C1932.0 1117.0 1934.0 1119.5 1936.0 1119.5C1937.5 1119.5 1939.0 1117.1 1940.5 1114.0C1941.5 1111.9 1942.5 1104.3 1943.5 1096.9C1944.7 1088.2 1945.8 1070.2 1947.0 1058.5C1948.4 1044.5 1949.8 1030.8 1951.2 1020.1C1952.6 1009.7 1953.9 997.0 1955.3 993.3C1956.7 989.4 1958.1 986.0 1959.5 986.0C1960.9 986.0 1962.2 989.3 1963.6 993.8C1964.8 997.7 1966.0 1016.9 1967.2 1032.9C1968.4 1048.9 1969.6 1073.3 1970.8 1094.6C1972.1 1117.7 1973.4 1140.1 1974.7 1166.5C1975.8 1188.2 1976.8 1216.0 1977.9 1238.6C1978.9 1260.4 1980.0 1278.9 1981.0 1300.2C1982.1 1323.7 1983.3 1352.3 1984.4 1373.5C1987.4 1430.1 1990.5 1479.5 1993.5 1517.3C1996.5 1554.7 1999.5 1583.1 2002.5 1609.9C2005.7 1638.3 2008.8 1655.1 2012.0 1684.8C2014.7 1709.9 2017.3 1753.3 2020.0 1776.3C2022.7 1799.3 2025.3 1812.4 2028.0 1831.7C2029.6 1843.2 2031.2 1853.2 2032.8 1867.7C2034.2 1880.4 2035.6 1896.8 2037.0 1915.4C2037.9 1927.8 2038.9 1936.3 2039.8 1959.2C2040.2 1969.0 2040.6 2011.0 2041.0 2011.0C2042.3 2011.0 2043.7 1965.2 2045.0 1938.9C2046.0 1919.2 2047.0 1885.8 2048.0 1874.4C2049.3 1859.1 2050.7 1847.5 2052.0 1844.2C2052.7 1842.6 2053.3 1841.7 2054.0 1841.0C2055.0 1839.9 2056.0 1839.7 2057.0 1838.7C2058.7 1837.0 2060.3 1834.3 2062.0 1830.5C2064.0 1826.0 2066.0 1817.6 2068.0 1807.3C2070.0 1796.9 2072.0 1777.7 2074.0 1760.8C2075.7 1746.6 2077.3 1724.0 2079.0 1714.3C2080.8 1703.5 2082.7 1691.0 2084.5 1691.0C2086.0 1691.0 2087.5 1706.4 2089.0 1719.7C2090.3 1731.6 2091.7 1763.2 2093.0 1777.1C2095.0 1798.1 2097.0 1825.0 2099.0 1825.0C2100.8 1825.0 2102.7 1817.0 2104.5 1809.4C2105.7 1804.7 2106.8 1795.6 2108.0 1786.1C2109.0 1777.9 2110.0 1766.7 2111.0 1755.0C2112.0 1743.3 2113.0 1729.1 2114.0 1714.4C2115.0 1699.6 2116.0 1680.4 2117.0 1665.6C2118.0 1650.9 2119.0 1638.5 2120.0 1625.0"/>
<path d="M180.0 1928.9C183.7 1929.0 187.3 1929.2 191.0 1929.2C204.0 1929.3 217.0 1929.4 230.0 1929.4C239.2 1929.4 248.4 1928.0 257.6 1926.9C263.4 1926.2 269.2 1925.3 275.0 1923.7C277.3 1923.0 279.7 1921.9 282.0 1920.5C284.0 1919.3 286.0 1917.9 288.0 1915.5C289.7 1913.4 291.3 1909.6 293.0 1905.0C294.7 1900.4 296.3 1892.6 298.0 1885.1C299.7 1877.5 301.3 1868.0 303.0 1858.9C304.7 1849.7 306.3 1837.3 308.0 1830.1C309.7 1822.8 311.3 1812.5 313.0 1812.5C314.3 1812.5 315.7 1817.7 317.0 1822.4C318.3 1827.1 319.7 1841.6 321.0 1846.5C322.0 1850.1 323.0 1854.5 324.0 1854.5C325.3 1854.5 326.7 1847.3 328.0 1845.0C330.0 1841.5 332.0 1837.0 334.0 1837.0C336.3 1837.0 338.7 1840.7 341.0 1843.6C343.0 1846.0 345.0 1849.6 347.0 1853.7C348.7 1857.1 350.3 1862.0 352.0 1866.4C353.7 1870.7 355.3 1876.1 357.0 1880.0C359.3 1885.5 361.7 1890.5 364.0 1894.2C366.3 1897.9 368.7 1900.7 371.0 1903.3C374.3 1907.0 377.7 1910.7 381.0 1912.9C384.7 1915.4 388.3 1917.9 392.0 1918.5C399.7 1919.7 407.3 1919.7 415.0 1920.5C423.3 1921.4 431.7 1923.0 440.0 1924.2C449.2 1925.5 458.5 1926.6 467.7 1927.9C473.5 1928.7 479.2 1928.9 485.0 1930.4C487.7 1931.0 490.3 1933.7 493.0 1935.3C495.0 1936.5 497.0 1939.0 499.0 1939.0C502.7 1939.0 506.3 1938.8 510.0 1938.6C515.0 1938.3 520.0 1935.9 525.0 1935.0C529.3 1934.3 533.5 1933.7 537.8 1933.2C555.2 1931.2 572.6 1928.5 590.0 1928.5C601.7 1928.5 613.3 1930.5 625.0 1931.7C636.7 1933.0 648.3 1935.4 660.0 1936.0C673.3 1936.6 686.7 1936.9 700.0 1937.2C723.3 1937.8 746.7 1938.4 770.0 1938.4C793.3 1938.4 816.7 1937.7 840.0 1937.1C863.3 1936.5 886.7 1935.5 910.0 1934.5C933.3 1933.5 956.7 1932.3 980.0 1931.2C997.3 1930.4 1014.7 1929.8 1032.0 1928.8C1038.0 1928.4 1044.0 1928.2 1050.0 1927.5C1054.7 1926.9 1059.3 1924.7 1064.0 1922.0C1071.0 1918.0 1078.0 1905.9 1085.0 1897.7C1090.9 1890.8 1096.8 1884.8 1102.7 1876.7C1108.5 1868.8 1114.2 1854.8 1120.0 1848.7C1125.9 1842.4 1131.9 1837.9 1137.8 1834.7C1143.5 1831.6 1149.3 1830.3 1155.0 1827.7C1159.7 1825.5 1164.3 1820.3 1169.0 1820.3C1174.3 1820.3 1179.7 1823.2 1185.0 1827.0C1189.1 1829.9 1193.2 1843.4 1197.3 1852.2C1202.0 1862.2 1206.6 1874.5 1211.3 1883.7C1216.0 1892.9 1220.6 1902.7 1225.3 1908.2C1233.5 1917.9 1241.8 1925.4 1250.0 1929.2C1259.3 1933.5 1268.7 1935.4 1278.0 1938.0C1289.7 1941.3 1301.3 1944.7 1313.0 1946.8C1321.1 1948.3 1329.3 1950.3 1337.4 1950.3C1341.6 1950.3 1345.8 1947.9 1350.0 1946.6C1355.8 1944.8 1361.7 1943.9 1367.5 1940.7C1371.3 1938.6 1375.2 1928.4 1379.0 1926.0C1383.9 1922.9 1388.9 1922.3 1393.8 1920.0C1400.5 1916.8 1407.3 1908.6 1414.0 1908.6C1418.0 1908.6 1422.0 1910.0 1426.0 1910.0C1429.9 1910.0 1433.7 1905.7 1437.6 1905.7C1442.4 1905.7 1447.2 1906.9 1452.0 1908.6C1455.9 1910.0 1459.9 1919.7 1463.8 1923.0C1468.7 1927.0 1473.5 1932.0 1478.4 1932.0C1483.3 1932.0 1488.1 1931.4 1493.0 1930.5C1497.9 1929.6 1502.7 1925.0 1507.6 1920.0C1511.5 1916.0 1515.4 1908.6 1519.3 1900.0C1522.2 1893.6 1525.1 1885.7 1528.0 1873.6C1530.0 1865.2 1532.0 1849.6 1534.0 1835.7C1535.9 1822.5 1537.8 1804.9 1539.7 1792.0C1542.6 1772.0 1545.6 1753.8 1548.5 1739.0C1552.3 1719.7 1556.2 1702.9 1560.0 1689.7C1563.0 1679.4 1566.0 1669.3 1569.0 1663.5C1572.3 1657.0 1575.7 1649.0 1579.0 1649.0C1584.3 1649.0 1589.7 1659.0 1595.0 1659.0C1597.5 1659.0 1600.0 1655.8 1602.5 1652.3C1604.9 1648.8 1607.4 1636.6 1609.8 1628.1C1612.7 1618.0 1615.6 1607.1 1618.5 1595.9C1620.9 1586.5 1623.4 1574.2 1625.8 1566.4C1627.8 1560.0 1629.7 1553.2 1631.7 1550.3C1634.1 1546.7 1636.6 1543.0 1639.0 1543.0C1643.8 1543.0 1648.7 1549.4 1653.5 1558.0C1656.3 1563.0 1659.2 1587.3 1662.0 1596.0C1665.0 1605.2 1668.0 1613.8 1671.0 1616.8C1674.0 1619.8 1677.0 1619.0 1680.0 1622.6C1681.9 1624.9 1683.8 1643.2 1685.7 1651.8C1688.6 1665.0 1691.5 1682.9 1694.4 1686.8C1695.6 1688.4 1696.8 1690.0 1698.0 1690.0C1700.7 1690.0 1703.3 1679.5 1706.0 1679.5C1709.0 1679.5 1712.0 1690.6 1715.0 1698.5C1719.8 1711.1 1724.6 1733.1 1729.4 1751.0C1734.3 1769.1 1739.1 1785.4 1744.0 1806.5C1747.9 1823.4 1751.8 1842.7 1755.7 1865.0C1758.6 1881.8 1761.6 1905.5 1764.5 1923.0C1766.4 1934.5 1768.4 1955.0 1770.3 1955.0C1772.3 1955.0 1774.2 1952.4 1776.2 1950.0C1778.6 1947.0 1781.1 1939.3 1783.5 1932.0C1785.8 1925.0 1788.2 1915.0 1790.5 1905.0C1792.5 1896.4 1794.5 1886.1 1796.5 1876.0C1798.1 1867.7 1799.8 1858.7 1801.4 1850.0C1802.8 1842.7 1804.1 1835.7 1805.5 1828.0C1809.3 1806.6 1813.1 1780.7 1816.9 1758.8C1818.7 1748.2 1820.6 1738.5 1822.4 1728.3C1824.7 1715.3 1827.1 1703.3 1829.4 1689.2C1832.2 1672.3 1835.0 1649.0 1837.8 1633.5C1843.9 1599.8 1849.9 1585.2 1856.0 1550.0C1859.2 1531.6 1862.3 1504.8 1865.5 1480.0C1867.7 1463.0 1869.8 1448.1 1872.0 1426.0C1873.3 1412.4 1874.7 1387.8 1876.0 1375.3C1877.4 1362.2 1878.8 1353.3 1880.2 1344.1C1881.6 1334.8 1883.0 1325.0 1884.4 1319.1C1886.1 1311.9 1887.9 1306.0 1889.6 1302.5C1890.4 1300.9 1891.2 1299.7 1892.0 1298.7C1894.3 1295.8 1896.7 1294.7 1899.0 1292.2C1901.1 1289.9 1903.1 1288.3 1905.2 1284.1C1907.0 1280.5 1908.7 1269.8 1910.5 1261.7C1912.2 1253.7 1914.0 1240.2 1915.7 1235.3C1917.8 1229.3 1919.8 1223.6 1921.9 1223.1C1924.6 1222.4 1927.3 1222.0 1930.0 1222.0C1932.0 1222.0 1934.0 1224.4 1936.0 1224.4C1937.5 1224.4 1939.0 1222.1 1940.5 1219.1C1941.5 1217.1 1942.5 1209.9 1943.5 1202.8C1944.7 1194.5 1945.8 1177.3 1947.0 1166.2C1948.4 1152.9 1949.8 1139.7 1951.2 1129.5C1952.6 1119.6 1953.9 1107.5 1955.3 1103.9C1956.7 1100.3 1958.1 1097.0 1959.5 1097.0C1960.9 1097.0 1962.2 1100.3 1963.6 1104.9C1964.8 1108.8 1966.0 1128.2 1967.2 1144.3C1968.4 1160.4 1969.6 1185.0 1970.8 1206.5C1972.1 1229.8 1973.4 1252.4 1974.7 1279.1C1975.8 1301.0 1976.8 1329.0 1977.9 1351.8C1978.9 1373.8 1980.0 1392.5 1981.0 1414.0C1982.1 1437.6 1983.3 1466.5 1984.4 1487.9C1987.4 1545.0 1990.5 1594.9 1993.5 1633.0C1996.5 1670.7 1999.5 1699.4 2002.5 1726.4C2005.7 1755.0 2008.8 1772.0 2012.0 1802.0C2014.7 1827.2 2017.3 1871.0 2020.0 1894.2C2022.7 1917.4 2025.3 1930.6 2028.0 1950.1C2029.6 1961.8 2031.2 1971.8 2032.8 1986.5C2034.2 1999.3 2035.6 2015.8 2037.0 2034.6C2037.9 2047.1 2038.9 2055.7 2039.8 2078.7C2040.2 2088.6 2040.6 2131.0 2041.0 2131.0C2042.3 2131.0 2043.7 2086.5 2045.0 2061.0C2046.0 2041.9 2047.0 2009.5 2048.0 1998.4C2049.3 1983.6 2050.7 1972.3 2052.0 1969.1C2052.7 1967.5 2053.3 1966.7 2054.0 1966.0C2055.0 1964.9 2056.0 1964.7 2057.0 1963.7C2058.7 1962.0 2060.3 1959.3 2062.0 1955.5C2064.0 1951.0 2066.0 1942.6 2068.0 1932.3C2070.0 1921.9 2072.0 1902.7 2074.0 1885.8C2075.7 1871.6 2077.3 1849.0 2079.0 1839.3C2080.8 1828.5 2082.7 1816.0 2084.5 1816.0C2086.0 1816.0 2087.5 1832.2 2089.0 1846.2C2090.3 1858.7 2091.7 1892.0 2093.0 1906.6C2095.0 1928.6 2097.0 1957.0 2099.0 1957.0C2100.8 1957.0 2102.7 1949.0 2104.5 1941.4C2105.7 1936.7 2106.8 1927.6 2108.0 1918.1C2109.0 1909.9 2110.0 1898.7 2111.0 1887.0C2112.0 1875.3 2113.0 1861.1 2114.0 1846.4C2115.0 1831.6 2116.0 1812.4 2117.0 1797.6C2118.0 1782.9 2119.0 1770.5 2120.0 1757.0"/>
<path d="M180.0 2065.7C183.7 2066.0 187.3 2066.3 191.0 2066.5C204.0 2067.3 217.0 2068.3 230.0 2068.3C239.2 2068.3 248.4 2067.6 257.6 2067.0C263.4 2066.5 269.2 2065.8 275.0 2064.5C277.3 2064.0 279.7 2062.5 282.0 2061.6C284.0 2060.8 286.0 2060.5 288.0 2059.4C289.7 2058.5 291.3 2056.8 293.0 2054.8C294.7 2052.8 296.3 2049.4 298.0 2046.2C299.7 2042.9 301.3 2038.7 303.0 2034.7C304.7 2030.7 306.3 2025.3 308.0 2022.2C309.7 2019.0 311.3 2014.5 313.0 2014.5C314.3 2014.5 315.7 2016.7 317.0 2018.6C318.3 2020.6 319.7 2026.6 321.0 2028.7C322.0 2030.2 323.0 2032.0 324.0 2032.0C325.3 2032.0 326.7 2028.7 328.0 2027.6C330.0 2026.0 332.0 2024.0 334.0 2024.0C336.3 2024.0 338.7 2024.2 341.0 2024.5C343.5 2024.8 346.1 2025.6 348.6 2027.0C350.7 2028.2 352.9 2033.3 355.0 2036.0C357.5 2039.2 360.1 2042.7 362.6 2044.8C368.4 2049.6 374.2 2052.5 380.0 2055.3C385.9 2058.1 391.8 2061.0 397.7 2062.3C403.5 2063.6 409.2 2064.2 415.0 2065.0C423.3 2066.1 431.7 2067.0 440.0 2068.0C449.2 2069.0 458.5 2069.9 467.7 2071.0C473.5 2071.6 479.2 2071.8 485.0 2072.9C487.7 2073.5 490.3 2075.6 493.0 2076.9C495.0 2077.9 497.0 2079.9 499.0 2079.9C502.7 2079.9 506.3 2079.7 510.0 2079.5C515.0 2079.2 520.0 2076.8 525.0 2075.9C529.3 2075.2 533.5 2074.6 537.8 2074.1C555.2 2072.1 572.6 2069.4 590.0 2069.4C601.7 2069.4 613.3 2071.6 625.0 2072.9C636.7 2074.2 648.3 2076.7 660.0 2077.4C673.3 2078.2 686.7 2078.6 700.0 2079.0C723.3 2079.7 746.7 2080.7 770.0 2080.7C793.3 2080.7 816.7 2079.4 840.0 2078.5C863.3 2077.6 886.7 2076.0 910.0 2075.0C933.3 2074.0 956.7 2072.4 980.0 2072.4C997.6 2072.4 1015.1 2072.9 1032.7 2072.9C1038.5 2072.9 1044.2 2071.1 1050.0 2069.4C1054.7 2068.0 1059.3 2065.5 1064.0 2062.3C1071.0 2057.5 1078.0 2045.3 1085.0 2037.8C1090.9 2031.5 1096.8 2026.2 1102.7 2020.3C1108.5 2014.5 1114.2 2007.7 1120.0 2002.8C1124.8 1998.8 1129.5 1992.3 1134.3 1992.3C1139.0 1992.3 1143.6 1994.0 1148.3 1994.0C1155.2 1994.0 1162.1 1992.0 1169.0 1992.0C1174.3 1992.0 1179.7 1994.1 1185.0 1997.0C1189.1 1999.2 1193.2 2009.5 1197.3 2016.8C1202.0 2025.1 1206.6 2036.8 1211.3 2044.8C1216.0 2052.8 1220.6 2061.1 1225.3 2065.8C1233.5 2074.0 1241.8 2080.9 1250.0 2083.4C1259.3 2086.2 1268.7 2087.0 1278.0 2088.6C1289.7 2090.6 1301.3 2092.1 1313.0 2093.9C1318.8 2094.8 1324.6 2096.7 1330.4 2096.7C1336.9 2096.7 1343.5 2095.7 1350.0 2094.5C1355.8 2093.5 1361.7 2090.7 1367.5 2087.0C1372.3 2083.9 1377.2 2074.7 1382.0 2069.7C1386.9 2064.7 1391.8 2060.5 1396.7 2056.5C1402.5 2051.8 1408.2 2044.6 1414.0 2043.4C1420.9 2042.0 1427.7 2042.1 1434.6 2041.0C1440.0 2040.1 1445.3 2037.0 1450.7 2037.0C1456.1 2037.0 1461.4 2042.8 1466.8 2043.4C1469.7 2043.7 1472.6 2043.7 1475.5 2044.0C1479.9 2044.5 1484.2 2050.7 1488.6 2050.7C1493.0 2050.7 1497.4 2049.4 1501.8 2047.8C1505.7 2046.3 1509.6 2040.6 1513.5 2034.6C1516.4 2030.1 1519.3 2022.8 1522.2 2014.2C1524.6 2007.0 1527.1 1996.8 1529.5 1985.0C1531.4 1975.6 1533.4 1962.9 1535.3 1950.0C1536.3 1943.3 1537.3 1935.1 1538.3 1928.0C1540.2 1914.3 1542.2 1900.0 1544.1 1888.2C1546.0 1876.4 1548.0 1864.4 1549.9 1856.4C1552.3 1846.4 1554.8 1840.9 1557.2 1832.6C1559.6 1824.2 1562.1 1812.7 1564.5 1806.0C1566.5 1800.6 1568.4 1794.7 1570.4 1792.8C1573.3 1789.9 1576.2 1787.5 1579.1 1787.5C1582.0 1787.5 1585.0 1789.5 1587.9 1791.3C1590.6 1792.9 1593.4 1799.0 1596.1 1799.0C1598.2 1799.0 1600.4 1795.8 1602.5 1792.6C1604.9 1789.0 1607.4 1777.7 1609.8 1769.7C1612.7 1760.1 1615.6 1749.8 1618.5 1739.2C1620.9 1730.2 1623.4 1718.6 1625.8 1711.2C1627.8 1705.1 1629.7 1698.7 1631.7 1695.9C1634.1 1692.5 1636.6 1689.0 1639.0 1689.0C1643.8 1689.0 1648.7 1695.5 1653.5 1704.0C1657.3 1710.8 1661.2 1752.9 1665.0 1762.7C1671.0 1778.1 1677.0 1776.8 1683.0 1792.0C1685.8 1799.2 1688.7 1822.1 1691.5 1830.0C1693.3 1835.1 1695.2 1841.5 1697.0 1841.5C1700.0 1841.5 1703.0 1830.0 1706.0 1830.0C1709.9 1830.0 1713.9 1852.0 1717.8 1865.0C1721.7 1877.8 1725.5 1898.4 1729.4 1908.6C1732.3 1916.3 1735.3 1919.0 1738.2 1926.7C1741.1 1934.5 1744.1 1946.6 1747.0 1959.5C1749.4 1970.2 1751.9 1983.3 1754.3 1998.3C1756.2 2010.2 1758.2 2025.5 1760.1 2039.9C1762.0 2054.3 1764.0 2073.9 1765.9 2084.6C1767.4 2092.7 1768.8 2104.0 1770.3 2104.0C1772.3 2104.0 1774.2 2101.4 1776.2 2099.0C1778.6 2096.0 1781.1 2089.1 1783.5 2082.0C1785.8 2075.2 1788.2 2065.1 1790.5 2055.0C1792.0 2048.5 1793.5 2040.5 1795.0 2033.0C1796.3 2026.3 1797.7 2020.0 1799.0 2012.4C1803.1 1989.3 1807.1 1954.4 1811.2 1931.2C1816.1 1903.1 1821.1 1881.2 1826.0 1858.0C1830.7 1836.0 1835.3 1818.8 1840.0 1795.0C1844.0 1774.6 1848.0 1752.5 1852.0 1725.0C1855.2 1703.3 1858.3 1676.2 1861.5 1647.0C1863.7 1627.1 1865.8 1597.1 1868.0 1580.0C1871.0 1556.5 1873.9 1543.4 1876.9 1524.0C1878.0 1516.8 1879.1 1508.7 1880.2 1501.7C1881.6 1492.9 1883.0 1483.0 1884.4 1477.2C1886.1 1470.0 1887.9 1464.2 1889.6 1460.7C1890.4 1459.1 1891.2 1458.0 1892.0 1457.0C1894.3 1454.0 1896.7 1452.6 1899.0 1449.8C1901.1 1447.3 1903.1 1445.5 1905.2 1440.9C1907.0 1437.0 1908.7 1425.3 1910.5 1416.3C1912.2 1407.5 1914.0 1392.7 1915.7 1387.3C1917.8 1380.7 1919.8 1374.5 1921.9 1373.9C1924.6 1373.1 1927.3 1372.7 1930.0 1372.7C1932.0 1372.7 1934.0 1375.1 1936.0 1375.1C1937.5 1375.1 1939.0 1372.8 1940.5 1369.8C1941.5 1367.8 1942.5 1360.6 1943.5 1353.5C1944.7 1345.3 1945.8 1328.1 1947.0 1317.0C1948.4 1303.7 1949.8 1290.6 1951.2 1280.5C1952.6 1270.5 1953.9 1258.5 1955.3 1254.9C1956.7 1251.3 1958.1 1248.0 1959.5 1248.0C1960.9 1248.0 1962.2 1251.3 1963.6 1255.9C1964.8 1259.9 1966.0 1279.4 1967.2 1295.5C1968.4 1311.7 1969.6 1336.5 1970.8 1358.1C1972.1 1381.5 1973.4 1404.2 1974.7 1431.0C1975.8 1453.0 1976.8 1481.2 1977.9 1504.0C1978.9 1526.1 1980.0 1544.9 1981.0 1566.5C1982.1 1590.3 1983.3 1619.3 1984.4 1640.7C1987.4 1698.1 1990.5 1748.3 1993.5 1786.6C1996.5 1824.5 1999.5 1853.3 2002.5 1880.5C2005.7 1909.2 2008.8 1926.3 2012.0 1956.4C2014.7 1981.7 2017.3 2025.8 2020.0 2049.1C2022.7 2072.4 2025.3 2085.7 2028.0 2105.2C2029.6 2116.9 2031.2 2127.0 2032.8 2141.8C2034.2 2154.7 2035.6 2171.2 2037.0 2190.1C2037.9 2202.7 2038.9 2211.3 2039.8 2234.5C2040.2 2244.4 2040.6 2287.0 2041.0 2287.0C2042.3 2287.0 2043.7 2237.9 2045.0 2209.8C2046.0 2188.7 2047.0 2152.9 2048.0 2140.7C2049.3 2124.4 2050.7 2112.0 2052.0 2108.5C2052.7 2106.7 2053.3 2105.7 2054.0 2105.0C2055.0 2103.9 2056.0 2103.8 2057.0 2102.8C2058.7 2101.2 2060.3 2098.6 2062.0 2095.0C2064.0 2090.7 2066.0 2082.7 2068.0 2072.9C2070.0 2063.0 2072.0 2044.7 2074.0 2028.5C2075.7 2015.0 2077.3 1993.5 2079.0 1984.2C2080.8 1973.9 2082.7 1962.0 2084.5 1962.0C2086.0 1962.0 2087.5 1980.6 2089.0 1996.7C2090.3 2011.1 2091.7 2049.5 2093.0 2066.1C2095.0 2091.2 2097.0 2123.0 2099.0 2123.0C2100.8 2123.0 2102.7 2115.6 2104.5 2106.0C2105.7 2099.9 2106.8 2076.4 2108.0 2060.0C2108.7 2050.6 2109.3 2038.1 2110.0 2030.0C2111.0 2017.8 2112.0 2013.6 2113.0 2000.0C2113.7 1990.9 2114.3 1976.0 2115.0 1960.0C2115.7 1944.0 2116.3 1914.6 2117.0 1900.0C2118.0 1878.2 2119.0 1866.7 2120.0 1850.0"/>
<path d="M180.0 2355.4C183.7 2355.4 187.3 2355.5 191.0 2355.5C204.0 2355.5 217.0 2355.3 230.0 2354.9C239.2 2354.6 248.4 2353.2 257.6 2351.9C263.4 2351.0 269.2 2350.1 275.0 2348.3C277.3 2347.6 279.7 2346.8 282.0 2345.0C284.0 2343.5 286.0 2339.3 288.0 2334.1C289.7 2329.7 291.3 2321.2 293.0 2311.2C294.7 2301.3 296.3 2284.3 298.0 2267.9C299.7 2251.5 301.3 2230.8 303.0 2210.9C304.7 2191.0 306.3 2164.0 308.0 2148.2C309.7 2132.4 311.3 2110.0 313.0 2110.0C314.3 2110.0 315.7 2121.0 317.0 2130.8C318.3 2140.7 319.7 2171.3 321.0 2181.5C322.0 2189.2 323.0 2198.4 324.0 2198.4C325.3 2198.4 326.7 2182.8 328.0 2177.8C330.0 2170.3 332.0 2160.6 334.0 2160.6C336.3 2160.6 338.7 2169.1 341.0 2175.5C343.0 2181.1 345.0 2189.3 347.0 2198.5C348.7 2206.3 350.3 2217.3 352.0 2227.3C353.7 2237.2 355.3 2249.4 357.0 2258.3C359.3 2270.8 361.7 2282.1 364.0 2290.5C366.3 2298.9 368.7 2305.3 371.0 2311.2C374.3 2319.7 377.7 2328.0 381.0 2333.1C384.7 2338.6 388.3 2344.3 392.0 2345.7C399.7 2348.5 407.3 2349.0 415.0 2350.3C423.3 2351.8 431.7 2352.9 440.0 2354.1C449.2 2355.5 458.5 2356.7 467.7 2358.0C473.5 2358.8 479.2 2359.0 485.0 2360.5C487.7 2361.2 490.3 2364.0 493.0 2365.7C495.0 2366.9 497.0 2369.5 499.0 2369.5C502.7 2369.5 506.3 2369.3 510.0 2369.1C515.0 2368.8 520.0 2366.4 525.0 2365.5C529.3 2364.8 533.5 2364.2 537.8 2363.7C555.2 2361.7 572.6 2359.0 590.0 2359.0C601.7 2359.0 613.3 2361.7 625.0 2363.3C636.7 2364.9 648.3 2367.6 660.0 2368.6C673.3 2369.8 686.7 2370.4 700.0 2371.2C723.3 2372.4 746.7 2373.2 770.0 2374.5C793.3 2375.8 816.7 2377.7 840.0 2379.4C859.9 2380.9 879.7 2384.0 899.6 2384.0C914.7 2384.0 929.9 2381.2 945.0 2379.4C956.7 2378.0 968.3 2375.3 980.0 2374.2C997.6 2372.5 1015.1 2372.9 1032.7 2370.7C1038.5 2370.0 1044.2 2367.7 1050.0 2365.4C1057.0 2362.6 1064.0 2356.8 1071.0 2353.0C1078.0 2349.2 1085.0 2346.9 1092.0 2342.6C1096.7 2339.8 1101.3 2335.5 1106.0 2332.0C1110.7 2328.5 1115.3 2323.4 1120.0 2321.6C1124.7 2319.8 1129.3 2318.0 1134.0 2318.0C1137.6 2318.0 1141.2 2323.4 1144.8 2323.4C1148.2 2323.4 1151.6 2315.2 1155.0 2312.9C1160.3 2309.4 1165.7 2305.4 1171.0 2305.4C1176.3 2305.4 1181.5 2305.9 1186.8 2307.0C1190.3 2307.7 1193.8 2316.6 1197.3 2321.6C1202.0 2328.3 1206.6 2334.5 1211.3 2342.6C1214.8 2348.7 1218.3 2358.3 1221.8 2363.7C1226.5 2370.9 1231.1 2378.7 1235.8 2381.0C1243.9 2385.0 1251.9 2386.1 1260.0 2388.0C1271.8 2390.8 1283.6 2393.2 1295.4 2395.0C1307.1 2396.8 1318.7 2399.4 1330.4 2399.4C1336.9 2399.4 1343.5 2397.1 1350.0 2395.0C1354.9 2393.5 1359.7 2391.0 1364.6 2387.8C1369.4 2384.6 1374.2 2377.8 1379.0 2373.0C1383.9 2368.1 1388.9 2362.2 1393.8 2358.6C1400.5 2353.7 1407.3 2347.0 1414.0 2347.0C1418.9 2347.0 1423.9 2350.0 1428.8 2350.0C1434.6 2350.0 1440.5 2349.3 1446.3 2349.3C1450.2 2349.3 1454.1 2354.2 1458.0 2355.7C1461.3 2357.0 1464.7 2358.6 1468.0 2358.6C1472.3 2358.6 1476.7 2353.3 1481.0 2351.0C1486.0 2348.4 1491.0 2347.2 1496.0 2344.0C1499.9 2341.5 1503.7 2337.3 1507.6 2332.4C1510.5 2328.7 1513.5 2324.2 1516.4 2317.8C1518.3 2313.5 1520.3 2307.4 1522.2 2300.0C1524.1 2292.6 1526.1 2282.5 1528.0 2271.0C1530.0 2259.2 1532.0 2242.3 1534.0 2227.3C1535.9 2213.1 1537.8 2196.2 1539.7 2183.5C1541.7 2170.3 1543.6 2158.5 1545.6 2148.5C1548.5 2133.8 1551.4 2121.5 1554.3 2110.5C1557.2 2099.5 1560.1 2088.4 1563.0 2081.3C1565.5 2075.2 1567.9 2068.8 1570.4 2066.8C1573.3 2064.4 1576.1 2062.4 1579.0 2062.4C1581.5 2062.4 1583.9 2067.0 1586.4 2069.7C1589.8 2073.5 1593.2 2082.8 1596.6 2082.8C1599.1 2082.8 1601.5 2079.3 1604.0 2075.5C1606.9 2071.1 1609.8 2055.4 1612.7 2043.4C1615.6 2031.4 1618.5 2015.0 1621.4 2002.5C1624.3 1989.9 1627.3 1975.3 1630.2 1967.5C1633.1 1959.7 1636.1 1950.0 1639.0 1950.0C1642.9 1950.0 1646.7 1956.9 1650.6 1964.6C1653.5 1970.5 1656.5 1990.2 1659.4 2002.5C1662.3 2014.5 1665.1 2029.2 1668.0 2037.6C1671.5 2047.7 1674.9 2050.2 1678.4 2061.0C1680.8 2068.6 1683.3 2084.7 1685.7 2096.0C1687.6 2104.9 1689.6 2118.8 1691.5 2122.0C1693.4 2125.2 1695.4 2128.0 1697.3 2128.0C1700.2 2128.0 1703.1 2116.4 1706.0 2116.4C1709.0 2116.4 1711.9 2128.1 1714.9 2136.8C1717.8 2145.3 1720.7 2162.1 1723.6 2171.8C1728.5 2188.1 1733.3 2196.5 1738.2 2212.7C1741.1 2222.5 1744.1 2234.4 1747.0 2247.7C1749.4 2258.7 1751.9 2270.5 1754.3 2285.7C1756.2 2297.6 1758.1 2314.1 1760.0 2329.5C1762.0 2345.7 1764.0 2367.3 1766.0 2381.0C1767.4 2390.8 1768.9 2406.0 1770.3 2406.0C1772.7 2406.0 1775.2 2400.8 1777.6 2396.0C1780.1 2391.2 1782.5 2380.9 1785.0 2370.3C1787.4 2360.0 1789.8 2345.4 1792.2 2329.5C1794.6 2313.4 1797.1 2288.7 1799.5 2271.0C1803.4 2242.6 1807.3 2220.9 1811.2 2194.0C1815.8 2162.3 1820.4 2121.0 1825.0 2093.6C1830.4 2061.4 1835.8 2040.9 1841.2 2012.4C1846.1 1986.7 1850.9 1962.8 1855.8 1931.2C1859.3 1908.2 1862.9 1876.9 1866.4 1850.0C1868.6 1833.2 1870.8 1817.5 1873.0 1800.0C1875.8 1777.4 1878.7 1748.0 1881.5 1728.3C1883.3 1715.5 1885.2 1706.0 1887.0 1695.0C1888.7 1685.0 1890.3 1672.6 1892.0 1665.0C1893.3 1658.9 1894.7 1653.3 1896.0 1650.0C1897.7 1645.9 1899.3 1644.6 1901.0 1641.0C1903.0 1636.7 1905.0 1631.2 1907.0 1625.0C1909.3 1617.7 1911.7 1609.4 1914.0 1598.4C1915.3 1592.1 1916.7 1580.0 1918.0 1575.0C1919.3 1570.0 1920.7 1564.4 1922.0 1564.0C1924.7 1563.3 1927.3 1563.0 1930.0 1563.0C1932.0 1563.0 1934.0 1565.5 1936.0 1565.5C1937.5 1565.5 1939.0 1563.1 1940.5 1560.0C1941.5 1557.9 1942.5 1550.4 1943.5 1542.9C1944.7 1534.3 1945.8 1516.4 1947.0 1504.8C1948.4 1490.8 1949.8 1477.1 1951.2 1466.5C1952.6 1456.1 1953.9 1443.5 1955.3 1439.7C1956.7 1435.9 1958.1 1432.5 1959.5 1432.5C1960.9 1432.5 1962.2 1436.2 1963.6 1441.1C1964.8 1445.5 1966.0 1466.8 1967.2 1484.6C1968.4 1502.3 1969.6 1529.4 1970.8 1553.0C1972.1 1578.6 1973.4 1603.5 1974.7 1632.8C1975.8 1656.9 1976.8 1687.8 1977.9 1712.8C1978.9 1737.0 1980.0 1757.5 1981.0 1781.2C1982.1 1807.2 1983.3 1839.0 1984.4 1862.5C1987.4 1925.3 1990.5 1980.2 1993.5 2022.1C1996.5 2063.6 1999.5 2095.2 2002.5 2124.9C2005.7 2156.3 2008.8 2175.1 2012.0 2208.0C2014.7 2235.8 2017.3 2284.0 2020.0 2309.5C2022.7 2335.0 2025.3 2349.6 2028.0 2371.0C2029.6 2383.8 2031.2 2394.9 2032.8 2411.0C2034.2 2425.1 2035.6 2443.3 2037.0 2463.9C2037.9 2477.7 2038.9 2487.1 2039.8 2512.5C2040.2 2523.3 2040.6 2570.0 2041.0 2570.0C2042.3 2570.0 2043.7 2507.5 2045.0 2471.6C2046.0 2444.7 2047.0 2399.1 2048.0 2383.5C2049.3 2362.7 2050.7 2346.9 2052.0 2342.4C2052.7 2340.1 2053.3 2338.6 2054.0 2338.0C2055.0 2337.1 2056.0 2337.2 2057.0 2336.5C2058.7 2335.4 2060.3 2333.7 2062.0 2331.2C2064.0 2328.3 2066.0 2322.8 2068.0 2316.1C2070.0 2309.4 2072.0 2296.9 2074.0 2285.8C2075.7 2276.7 2077.3 2262.0 2079.0 2255.6C2080.8 2248.6 2082.7 2240.5 2084.5 2240.5C2086.0 2240.5 2087.5 2259.2 2089.0 2275.4C2090.3 2289.9 2091.7 2328.6 2093.0 2345.3C2095.0 2370.3 2097.0 2402.0 2099.0 2402.0C2101.0 2402.0 2103.0 2399.0 2105.0 2396.0C2107.0 2393.0 2109.0 2388.1 2111.0 2378.0C2112.0 2373.0 2113.0 2357.7 2114.0 2345.0C2115.0 2332.3 2116.0 2308.9 2117.0 2300.0C2118.0 2291.1 2119.0 2287.3 2120.0 2281.0"/>
</g>
<path d="M2110.5 907V2100L2114.2 2074L2116.6 2039L2121.2 2002L2124 1995V902H2111V907Z" fill="#000"/>
<rect x="2110.5" y="2271" width="13.5" height="110" fill="#000"/>
<rect x="2110.5" y="2454" width="13.5" height="20" fill="#000"/>
<g fill="none" stroke="#f00" stroke-width="13.5" stroke-linecap="round">
<path d="M277.8 1144.0L450.8 1149.0" stroke-dasharray="24.2 25.5"/>
<path d="M277.8 1401.5L450.8 1405.7" stroke-dasharray="24.2 25.5"/>
<path d="M277.8 1582.6L450.8 1586.8" stroke-dasharray="24.2 25.5"/>
<path d="M277.8 1755.9L450.8 1759.4" stroke-dasharray="24.2 25.5"/>
<path d="M277.8 1927.5L450.8 1930.0" stroke-dasharray="24.2 25.5"/>
<path d="M277.8 2069.4L450.8 2071.8" stroke-dasharray="24.2 25.5"/>
<path d="M277.8 2349.2L450.8 2358.0" stroke-dasharray="24.2 25.5"/>
<path d="M988.0 1157.0L1310.3 1178.6" stroke-dasharray="24.2 25.5"/>
<path d="M988.0 1412.0L1310.3 1425.6" stroke-dasharray="24.2 25.5"/>
<path d="M988.0 1593.0L1310.3 1604.6" stroke-dasharray="24.2 25.5"/>
<path d="M988.0 1765.3L1310.3 1770.0" stroke-dasharray="24.2 25.5"/>
<path d="M988.0 1931.0L1310.3 1947.5" stroke-dasharray="24.2 25.5"/>
<path d="M988.0 2074.6L1310.3 2094.6" stroke-dasharray="24.2 25.5"/>
<path d="M988.0 2370.0L1336.5 2397.0" stroke-dasharray="24.2 25.5"/>
</g>
<g fill="#f00">
<circle cx="1959.8" cy="339.3" r="6.8"/>
<circle cx="1959.8" cy="364.2" r="6.8"/>
<circle cx="1959.8" cy="389.2" r="6.8"/>
<circle cx="1959.8" cy="414.1" r="6.8"/>
<circle cx="1959.8" cy="439.0" r="6.8"/>
<circle cx="1959.8" cy="464.0" r="6.8"/>
<circle cx="1959.8" cy="488.9" r="6.8"/>
<circle cx="1959.8" cy="513.8" r="6.8"/>
<circle cx="1959.8" cy="538.7" r="6.8"/>
<circle cx="1959.8" cy="563.7" r="6.8"/>
<circle cx="1959.8" cy="588.6" r="6.8"/>
<circle cx="1959.8" cy="613.5" r="6.8"/>
<circle cx="1959.8" cy="638.5" r="6.8"/>
<circle cx="1959.8" cy="663.4" r="6.8"/>
<circle cx="1959.8" cy="688.3" r="6.8"/>
<circle cx="1959.8" cy="713.2" r="6.8"/>
<circle cx="1959.8" cy="738.2" r="6.8"/>
<circle cx="1959.8" cy="763.1" r="6.8"/>
<circle cx="1959.8" cy="788.0" r="6.8"/>
<circle cx="1959.8" cy="813.0" r="6.8"/>
<circle cx="1959.8" cy="837.9" r="6.8"/>
<circle cx="1959.8" cy="862.8" r="6.8"/>
<circle cx="1959.8" cy="887.8" r="6.8"/>
<circle cx="1959.8" cy="912.7" r="6.8"/>
<circle cx="1959.8" cy="937.6" r="6.8"/>
<circle cx="1959.8" cy="962.5" r="6.8"/>
<circle cx="1959.8" cy="987.5" r="6.8"/>
<circle cx="1959.8" cy="1012.4" r="6.8"/>
<circle cx="1959.8" cy="1037.3" r="6.8"/>
<circle cx="1959.8" cy="1062.3" r="6.8"/>
<circle cx="1959.8" cy="1087.2" r="6.8"/>
<circle cx="1959.8" cy="1112.1" r="6.8"/>
<circle cx="1959.8" cy="1137.1" r="6.8"/>
<circle cx="1959.8" cy="1162.0" r="6.8"/>
<circle cx="1959.8" cy="1186.9" r="6.8"/>
<circle cx="1959.8" cy="1211.8" r="6.8"/>
<circle cx="1959.8" cy="1236.8" r="6.8"/>
<circle cx="1959.8" cy="1261.7" r="6.8"/>
<circle cx="1959.8" cy="1286.6" r="6.8"/>
<circle cx="1959.8" cy="1311.6" r="6.8"/>
<circle cx="1959.8" cy="1336.5" r="6.8"/>
<circle cx="1959.8" cy="1361.4" r="6.8"/>
<circle cx="1959.8" cy="1386.4" r="6.8"/>
<circle cx="1959.8" cy="1411.3" r="6.8"/>
</g>
<g fill="#000">
<rect x="178.5" y="20.5" width="12.7" height="2460.5"/>
<rect x="178.5" y="20.5" width="1945" height="12.7"/>
<rect x="178.5" y="2467.2" width="1945" height="13.8"/>
<rect x="272.9" y="2454" width="6.6" height="44.5"/>
<rect x="365.0" y="2454" width="6.6" height="14"/>
<rect x="457.1" y="2454" width="6.6" height="14"/>
<rect x="549.2" y="2454" width="6.6" height="14"/>
<rect x="641.2" y="2454" width="6.6" height="44.5"/>
<rect x="733.3" y="2454" width="6.6" height="14"/>
<rect x="825.4" y="2454" width="6.6" height="14"/>
<rect x="917.5" y="2454" width="6.6" height="14"/>
<rect x="1009.6" y="2454" width="6.6" height="44.5"/>
<rect x="1101.7" y="2454" width="6.6" height="14"/>
<rect x="1193.8" y="2454" width="6.6" height="14"/>
<rect x="1285.8" y="2454" width="6.6" height="14"/>
<rect x="1377.9" y="2454" width="6.6" height="44.5"/>
<rect x="1470.0" y="2454" width="6.6" height="14"/>
<rect x="1562.1" y="2454" width="6.6" height="14"/>
<rect x="1654.2" y="2454" width="6.6" height="14"/>
<rect x="1746.3" y="2454" width="6.6" height="44.5"/>
<rect x="1838.3" y="2454" width="6.6" height="14"/>
<rect x="1930.4" y="2454" width="6.6" height="14"/>
<rect x="2022.5" y="2454" width="6.6" height="14"/>
<rect x="2114.6" y="2454" width="6.6" height="44.5"/>
</g>
<text x="276.2" y="2596.3" text-anchor="middle" class="b" font-size="81.5">2400</text><text x="644.5" y="2596.3" text-anchor="middle" class="b" font-size="81.5">2000</text><text x="1012.9" y="2596.3" text-anchor="middle" class="b" font-size="81.5">1600</text><text x="1381.2" y="2596.3" text-anchor="middle" class="b" font-size="81.5">1200</text><text x="1749.6" y="2596.3" text-anchor="middle" class="b" font-size="81.5">800</text><text x="2117.9" y="2596.3" text-anchor="middle" class="b" font-size="81.5">400</text><text x="763" y="2760.6" class="b" font-size="99.4">Wave number (cm<tspan font-size="65" dy="-30">-1</tspan><tspan dy="30">)</tspan></text><text transform="translate(100 1610) rotate(-90)" class="b" font-size="99">Absorbance</text>
</svg>
</body></html>
